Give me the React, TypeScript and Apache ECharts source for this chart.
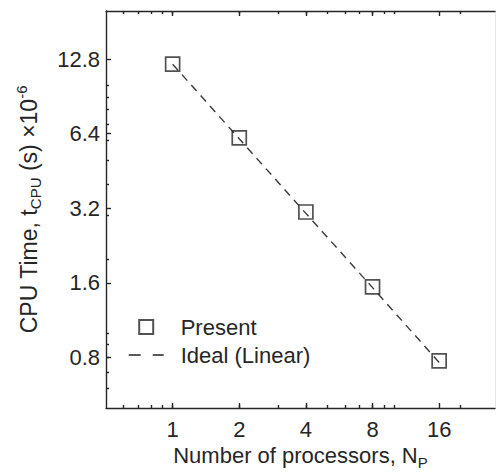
import React, { useEffect, useRef } from "react";
import * as echarts from "echarts";

const processors = [1, 2, 4, 8, 16];
const presentTimes = [12.2, 6.15, 3.09, 1.54, 0.775];
const idealTimes = [12.2, 6.1, 3.05, 1.53, 0.763];
const xMajorTicks = [1, 2, 4, 8, 16];
const yMajorTicks = [0.8, 1.6, 3.2, 6.4, 12.8];
const xMinorTicks = [0.6, 0.7, 0.8, 0.9, 1, 2, 3, 4, 5, 6, 7, 8, 9, 10, 20];
const yMinorTicks = [0.6, 0.7, 0.8, 0.9, 1, 2, 3, 4, 5, 6, 7, 8, 9, 10];

const FONT = "'Liberation Sans', Arial, Helvetica, sans-serif";
const INK = "#262626";

export default function App() {
  const ref = useRef<HTMLDivElement>(null);
  useEffect(() => {
    if (!ref.current) return;
    const chart = echarts.init(ref.current, undefined, { renderer: "svg" });
    const xBase = { type: "log" as const, logBase: 2, min: 0.5, max: 28.6, gridIndex: 0 };
    const yBase = { type: "log" as const, logBase: 2, min: 0.5, max: 20, gridIndex: 0 };
    const lineStyle = { color: INK, width: 1.4 };
    chart.setOption({
      animation: false,
      backgroundColor: "#ffffff",
      textStyle: { fontFamily: FONT, color: INK },
      grid: { left: 106, top: 11, right: 1, bottom: 64, outerBoundsMode: "none", containLabel: false },
      xAxis: [
        {
          ...xBase,
          position: "bottom",
          axisLine: { show: true, onZero: false, lineStyle },
          axisTick: { show: true, inside: true, length: 5, customValues: xMajorTicks, lineStyle },
          axisLabel: {
            show: true,
            customValues: xMajorTicks,
            margin: 10,
            fontSize: 22,
            fontFamily: FONT,
            color: INK,
            formatter: (v: number) => String(Math.round(v)),
          },
          splitLine: { show: false },
          name: "{a|Number of processors, N}{s|P}",
          nameLocation: "middle",
          nameGap: 23,
          nameTextStyle: {
            rich: {
              a: { fontSize: 22, fontFamily: FONT, color: INK, lineHeight: 28, verticalAlign: "middle" },
              s: { fontSize: 15, fontFamily: FONT, color: INK, lineHeight: 14, verticalAlign: "bottom" },
            },
          },
        },
        {
          ...xBase,
          position: "bottom",
          axisLine: { show: false, onZero: false },
          axisTick: { show: true, inside: true, length: 3, customValues: xMinorTicks, lineStyle },
          axisLabel: { show: false },
          splitLine: { show: false },
        },
        {
          ...xBase,
          position: "top",
          axisLine: { show: true, onZero: false, lineStyle },
          axisTick: { show: true, inside: true, length: 5, customValues: xMajorTicks, lineStyle },
          axisLabel: { show: false },
          splitLine: { show: false },
        },
        {
          ...xBase,
          position: "top",
          axisLine: { show: false, onZero: false },
          axisTick: { show: true, inside: true, length: 3, customValues: xMinorTicks, lineStyle },
          axisLabel: { show: false },
          splitLine: { show: false },
        },
      ],
      yAxis: [
        {
          ...yBase,
          position: "left",
          axisLine: { show: true, onZero: false, lineStyle },
          axisTick: { show: true, inside: true, length: 5, customValues: yMajorTicks, lineStyle },
          axisLabel: {
            show: true,
            customValues: yMajorTicks,
            margin: 6,
            fontSize: 22,
            fontFamily: FONT,
            color: INK,
            formatter: (v: number) => v.toFixed(1),
          },
          splitLine: { show: false },
          name: "{a|CPU Time, t}{s|CPU}{a| (s) ×10}{p|-6}",
          nameLocation: "middle",
          nameGap: 63,
          nameTextStyle: {
            rich: {
              a: { fontSize: 23, fontFamily: FONT, color: INK, lineHeight: 29, verticalAlign: "middle" },
              s: { fontSize: 15, fontFamily: FONT, color: INK, lineHeight: 14, verticalAlign: "bottom" },
              p: { fontSize: 15, fontFamily: FONT, color: INK, lineHeight: 14, verticalAlign: "top" },
            },
          },
        },
        {
          ...yBase,
          position: "left",
          axisLine: { show: false, onZero: false },
          axisTick: { show: true, inside: true, length: 3, customValues: yMinorTicks, lineStyle },
          axisLabel: { show: false },
          splitLine: { show: false },
        },
        {
          ...yBase,
          position: "right",
          axisLine: { show: true, onZero: false, lineStyle: { color: "#e6e6e6", width: 1 } },
          axisTick: { show: false },
          axisLabel: { show: false },
          splitLine: { show: false },
        },
      ],
      legend: {
        show: true,
        orient: "vertical",
        left: 128,
        top: 316,
        itemWidth: 35,
        itemHeight: 14,
        itemGap: 6,
        padding: 0,
        symbolKeepAspect: true,
        textStyle: { fontSize: 22, fontFamily: FONT, color: INK, lineHeight: 22, padding: [0, 0, 0, 12] },
        data: [
          { name: "Present", icon: "path://M0,0L10,0L10,10L0,10Z" },
          {
            name: "Ideal (Linear)",
            itemStyle: { opacity: 0 },
            lineStyle: { type: [12, 12], color: INK, width: 1.4 },
          },
        ],
        selectedMode: false,
      },
      series: [
        {
          name: "Ideal (Linear)",
          type: "line",
          xAxisIndex: 0,
          yAxisIndex: 0,
          data: processors.map((p, i) => [p, idealTimes[i]]),
          symbol: "none",
          itemStyle: { color: INK },
          lineStyle: { color: "#3a3a3a", width: 1.4, type: [8, 6] },
          z: 2,
        },
        {
          name: "Present",
          type: "scatter",
          xAxisIndex: 0,
          yAxisIndex: 0,
          data: processors.map((p, i) => [p, presentTimes[i]]),
          symbol: "rect",
          symbolSize: 14,
          itemStyle: { color: "rgba(0,0,0,0)", borderColor: INK, borderWidth: 1.7 },
          z: 3,
        },
      ],
    });
    return () => chart.dispose();
  }, []);
  return (
    <div
      ref={ref}
      style={{ position: "absolute", left: 0, top: 0, width: 496, height: 472 }}
    />
  );
}
